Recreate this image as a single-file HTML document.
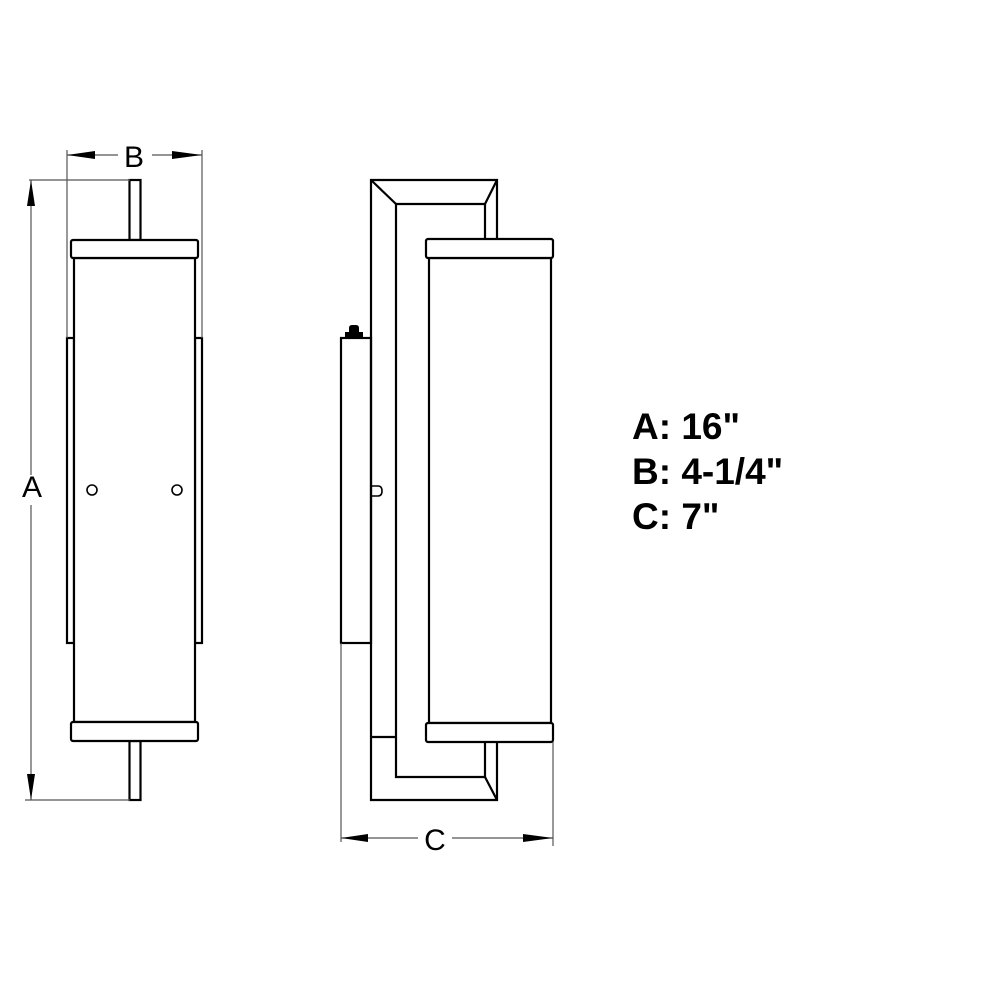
<!DOCTYPE html>
<html><head><meta charset="utf-8"><style>html,body{margin:0;padding:0;background:#fff}</style></head>
<body>
<svg width="1000" height="1000" viewBox="0 0 1000 1000" xmlns="http://www.w3.org/2000/svg">
<rect width="1000" height="1000" fill="#fff"/>
<g fill="none" stroke="#000" stroke-width="2.2">
<rect x="67" y="338" width="7" height="305"/>
<rect x="195" y="338" width="7" height="305"/>
<rect x="129.5" y="180" width="11" height="60"/>
<rect x="129.5" y="741" width="11" height="59"/>
<rect x="74" y="258" width="121" height="464" fill="#fff"/>
<rect x="71" y="240" width="127" height="18" rx="2" fill="#fff"/>
<rect x="71" y="722" width="127" height="19" rx="2" fill="#fff"/>
<circle cx="92" cy="490" r="5" stroke-width="1.6"/>
<circle cx="177" cy="490" r="5" stroke-width="1.6"/>
<rect x="341" y="338" width="30" height="305"/>
<path d="M497 240 V180 H371 V800 H497 V742"/>
<path d="M485 240 V204 H396 V777 H485 V742"/>
<path d="M371 180 L396 204 M497 180 L485 204 M485 777 L497 800 M371 737 H396"/>
<rect x="429" y="258" width="122" height="465" fill="#fff"/>
<rect x="426" y="239" width="127" height="19" rx="2" fill="#fff"/>
<rect x="426" y="723" width="127" height="19" rx="2" fill="#fff"/>
<path d="M372 486 H378 Q382 486 382 491 Q382 496 378 496 H372" stroke-width="1.6"/>
</g>
<path d="M345 337 V332 H349 V328 Q349 325 352 325 H356 Q359 325 359 328 V332 H363 V337 Z" fill="#000"/>
<g stroke="#555" stroke-width="1.2" fill="none">
<line x1="67" y1="150" x2="67" y2="338"/>
<line x1="202" y1="150" x2="202" y2="338"/>
<line x1="67" y1="155" x2="118" y2="155"/>
<line x1="152" y1="155" x2="202" y2="155"/>
<line x1="31" y1="180" x2="31" y2="475"/>
<line x1="31" y1="505" x2="31" y2="800"/>
<line x1="29" y1="180" x2="130" y2="180"/>
<line x1="25" y1="800" x2="130" y2="800"/>
<line x1="341" y1="643" x2="341" y2="842"/>
<line x1="553" y1="742" x2="553" y2="846"/>
<line x1="341" y1="838" x2="418" y2="838"/>
<line x1="452" y1="838" x2="553" y2="838"/>
</g>
<g fill="#000">
<polygon points="67,155 95,151 95,159"/>
<polygon points="202,155 172,151 172,159"/>
<polygon points="31,180 27,206 35,206"/>
<polygon points="31,800 27,774 35,774"/>
<polygon points="341,838 368,834 368,842"/>
<polygon points="553,838 523,834 523,842"/>
</g>
<g font-family="Liberation Sans, sans-serif" font-size="30" fill="#000">
<text x="134" y="167" text-anchor="middle">B</text>
<text x="32" y="497" text-anchor="middle">A</text>
<text x="435" y="850" text-anchor="middle">C</text>
</g>
<g font-family="Liberation Sans, sans-serif" font-size="37" font-weight="bold" fill="#000">
<text x="632" y="439">A: 16"</text>
<text x="632" y="484">B: 4-1/4"</text>
<text x="632" y="529">C: 7"</text>
</g>
</svg>
</body></html>
